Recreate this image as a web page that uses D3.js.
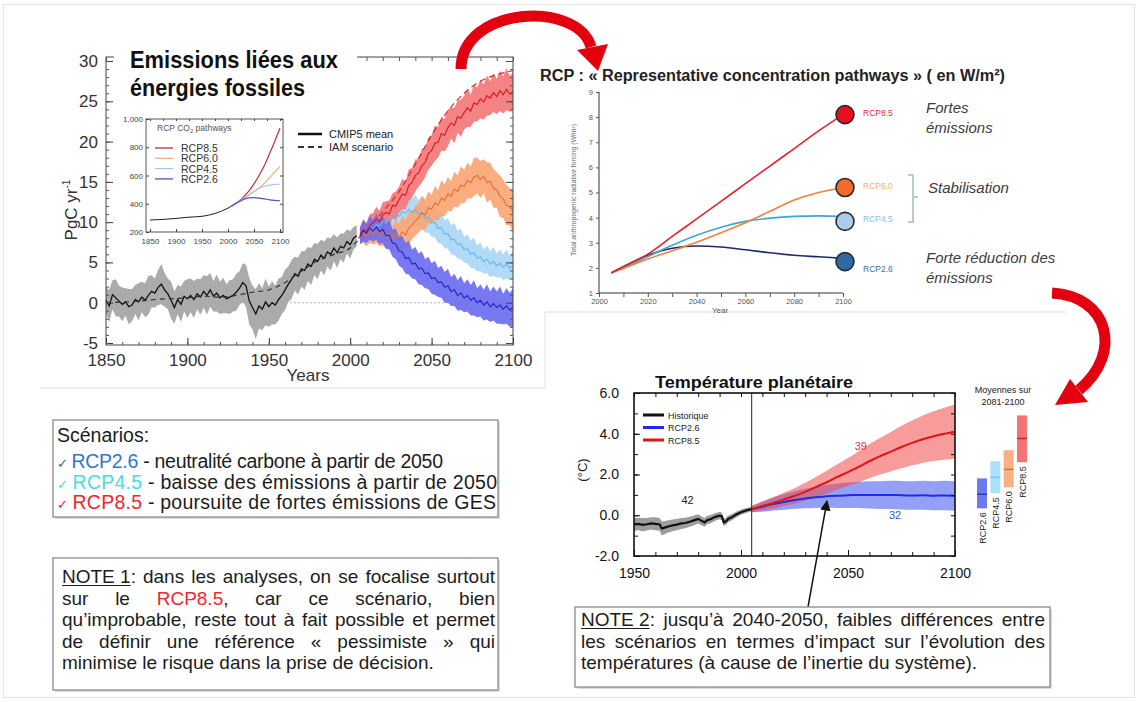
<!DOCTYPE html>
<html>
<head>
<meta charset="utf-8">
<script src="https://cdn.jsdelivr.net/npm/d3@7"></script>
<style>
  html, body { margin: 0; padding: 0; background: #fff; }
  svg { display: block; }
  text { font-family: "Liberation Sans", Arial, sans-serif; }
</style>
</head>
<body>
<svg id="slide" width="1138" height="702"></svg>
<script>
// ---------------- Fossil-fuel emissions (PgC / yr) ----------------
const histYears = d3.range(1850, 2005, 2);
const histEmis = [0.3,-0.4,1.0,0.6,0.2,-0.2,0.1,-0.5,-0.3,0.4,
  0.1,0.7,0.3,0.9,1.4,1.2,1.9,2.3,1.6,1.1,
  0.3,-0.6,0.4,-0.2,0.8,0.5,0.9,0.4,1.1,0.7,
  1.4,0.9,1.6,0.8,1.2,0.6,0.9,0.5,0.7,0.9,
  1.3,1.8,2.5,2.1,0.2,-0.6,-1.4,-0.4,-0.8,0.1,
  -0.5,0.0,-0.3,0.4,0.9,1.6,2.3,2.9,3.6,3.3,
  4.2,4.0,4.8,4.5,5.4,5.1,5.9,5.5,6.3,6.0,
  6.8,6.2,7.0,6.8,7.6,7.2,8.0,8.3];
const histSpread = [1.6,2.0,1.8,2.3,1.9,2.1,1.7,2.2,2.0,1.8,
  2.3,1.9,2.1,2.4,2.0,1.8,2.2,2.5,2.1,1.9,
  2.3,2.0,1.8,2.2,1.9,2.4,2.1,2.3,1.9,2.2,
  2.0,2.4,2.1,1.9,2.3,2.0,2.2,1.8,2.1,2.0,
  2.3,2.1,2.4,2.6,2.9,2.7,3.1,2.8,2.6,2.9,
  2.5,2.7,2.4,2.6,2.3,2.5,2.2,2.4,2.1,2.3,
  2.2,2.4,2.1,2.3,2.0,2.2,1.9,2.1,1.8,2.0,
  1.7,1.9,1.6,1.8,1.5,1.7,1.4,1.3];
const iamHistYears = [1850,1870,1880,1900,1910,1920,1930,1940,1950,1960,1970,1980,1990,2000,2005];
const iamHistVals  = [0.0,0.2,0.4,0.6,0.8,0.7,0.9,1.3,1.6,2.5,3.9,5.2,6.0,6.8,7.8];

const rcpYears = d3.range(2006, 2101, 2);
const rcp85Emis = [8.4,9.1,8.8,9.6,9.9,10.4,10.1,10.9,11.2,11.0,
  12.1,12.0,12.8,13.5,13.3,14.6,14.9,15.8,16.1,17.0,
  17.4,18.5,18.9,19.8,19.9,21.0,20.8,21.7,22.3,22.0,
  23.1,22.9,23.6,24.2,23.8,24.8,24.6,25.3,24.9,25.7,
  25.4,26.1,25.6,26.3,25.8,26.5,25.9,26.2];
const rcp60Emis = [8.3,8.7,8.2,8.9,8.5,9.0,8.4,8.8,8.2,8.7,
  7.9,8.5,8.1,8.8,8.4,9.3,9.6,10.2,10.5,11.2,
  10.9,11.8,11.6,12.4,12.1,13.0,12.7,13.5,13.2,14.1,
  13.8,14.6,14.4,15.2,14.9,15.6,15.8,15.3,15.7,14.9,
  15.1,14.2,14.0,13.2,12.9,12.1,11.9,11.4];
const rcp45Emis = [8.3,8.8,8.6,9.3,9.1,9.7,9.5,10.1,9.9,10.6,
  10.4,11.0,10.7,11.3,11.1,11.6,11.2,11.5,11.0,11.2,
  10.5,10.6,9.9,10.0,9.2,9.3,8.5,8.6,7.8,7.9,
  7.2,7.3,6.6,6.7,6.0,6.2,5.5,5.7,5.1,5.4,
  4.8,5.1,4.6,4.9,4.4,4.8,4.3,4.6];
const rcp26Emis = [8.3,8.9,8.6,9.3,8.9,9.4,8.8,9.1,8.3,8.4,
  7.4,7.3,6.4,6.3,5.5,5.6,4.8,4.9,4.2,4.3,
  3.6,3.7,3.0,3.1,2.5,2.6,1.9,2.1,1.4,1.6,
  0.9,1.2,0.6,0.9,0.3,0.6,0.0,0.3,-0.3,0.1,
  -0.5,-0.1,-0.6,-0.3,-0.8,-0.4,-0.9,-0.6];
const spread85 = [1.0,1.3,1.1,1.4,1.2,1.5,1.3,1.6,1.4,1.7,1.5,1.8,1.6,1.9,1.7,2.0,1.8,2.0,1.7,2.1,1.8,2.0,1.9,2.2,1.9,2.1,2.0,2.3,1.9,2.2,2.0,2.3,2.1,2.4,2.0,2.3,2.1,2.4,2.2,2.5,2.1,2.4,2.2,2.5,2.3,2.6,2.2,2.4];
const spread60 = [1.0,1.3,1.2,1.5,1.3,1.6,1.4,1.7,1.5,1.8,1.6,1.9,1.7,2.0,1.8,2.0,1.7,1.9,1.8,2.1,1.9,2.0,1.8,2.1,1.9,2.2,2.0,2.1,1.9,2.2,2.0,2.3,2.1,2.2,2.0,2.4,2.2,2.3,2.1,2.5,2.3,2.4,2.2,2.6,2.4,2.5,2.3,2.7];
const spread45 = [1.0,1.2,1.1,1.4,1.3,1.5,1.4,1.6,1.5,1.7,1.6,1.8,1.7,1.9,1.8,2.0,1.8,1.9,1.7,2.0,1.8,1.9,1.7,1.9,1.8,2.0,1.7,1.9,1.8,2.0,1.7,1.9,1.6,1.8,1.7,1.9,1.6,1.8,1.5,1.7,1.6,1.8,1.5,1.7,1.6,1.8,1.5,1.7];
const spread26 = [1.0,1.3,1.2,1.5,1.3,1.6,1.5,1.7,1.6,1.8,1.7,1.9,1.8,2.0,1.9,2.1,1.8,2.0,1.9,2.1,1.8,2.0,1.9,2.1,1.8,2.0,1.9,2.1,1.8,2.0,1.9,2.1,1.8,2.0,1.9,2.2,1.8,2.0,1.9,2.2,1.9,2.1,2.0,2.3,1.9,2.2,2.1,2.4];
const iam85Years = [2005,2010,2020,2030,2040,2050,2060,2070,2080,2090,2100];
const iam85Vals  = [8.0,9.0,11.3,13.8,17.2,20.8,23.8,26.0,27.5,28.3,28.8];
const emisYTicks = [-5,0,5,10,15,20,25,30];
const emisXTicks = [1850,1900,1950,2000,2050,2100];

// ---------------- CO2 concentration inset (ppm) ----------------
const co2HistYears = [1850,1875,1900,1925,1950,1975,2000,2005];
const co2HistVals  = [285,289,296,305,311,331,369,379];
const co2RcpYears  = [2005,2020,2030,2040,2050,2060,2070,2080,2090,2100];
const co2Rcp85 = [379,416,449,490,541,602,670,755,843,936];
const co2Rcp60 = [379,412,438,462,486,512,545,585,625,665];
const co2Rcp45 = [379,412,435,460,487,510,524,532,537,538];
const co2Rcp26 = [379,412,430,441,443,440,434,428,424,421];
const co2Names = ["RCP8.5","RCP6.0","RCP4.5","RCP2.6"];

// ---------------- Radiative forcing (W/m2) ----------------
const forcYears = [2005,2010,2020,2030,2040,2050,2060,2070,2080,2090,2100];
const forc85 = [1.8,2.05,2.55,3.25,3.95,4.65,5.35,6.05,6.75,7.45,8.1];
const forc60 = [1.8,1.98,2.35,2.68,3.02,3.4,3.8,4.25,4.7,5.0,5.2];
const forc45 = [1.8,2.0,2.45,2.9,3.3,3.62,3.85,3.98,4.05,4.07,4.05];
const forc26 = [1.8,2.05,2.5,2.78,2.87,2.83,2.72,2.6,2.5,2.44,2.38];
const forcNames = ["RCP8.5","RCP6.0","RCP4.5","RCP2.6"];
const forcMarkers = [8.1,5.2,3.85,2.25];
const forcYTicks = [1,2,3,4,5,6,7,8,9];
const forcXTicks = [2000,2020,2040,2060,2080,2100];

// ---------------- Global temperature (°C) ----------------
const tempHistYears = [1950,1952,1954,1956,1958,1960,1962,1963,1964,1966,1968,1970,1972,1974,1976,1978,1980,1982,1983,1984,1986,1988,1990,1991,1992,1993,1994,1996,1998,2000,2002,2004,2005];
const tempHistVals  = [-0.45,-0.42,-0.47,-0.44,-0.40,-0.42,-0.45,-0.65,-0.62,-0.55,-0.50,-0.46,-0.40,-0.38,-0.32,-0.25,-0.18,-0.30,-0.35,-0.25,-0.18,-0.08,-0.02,-0.05,-0.35,-0.30,-0.18,-0.08,0.05,0.15,0.22,0.28,0.30];
const tempHistSpread = [0.32,0.30,0.33,0.31,0.30,0.32,0.31,0.34,0.33,0.30,0.29,0.28,0.27,0.26,0.25,0.24,0.23,0.22,0.22,0.21,0.20,0.19,0.18,0.18,0.18,0.17,0.16,0.15,0.14,0.13,0.12,0.11,0.10];
const tempRcpYears = d3.range(2005, 2101, 5);
const temp26 = [0.30,0.42,0.55,0.65,0.75,0.82,0.88,0.93,0.96,0.98,1.0,1.0,0.99,1.0,0.98,0.97,0.98,0.96,0.97,0.95];
const temp26Spread = [0.15,0.25,0.32,0.38,0.43,0.48,0.52,0.56,0.60,0.63,0.65,0.67,0.68,0.69,0.70,0.70,0.71,0.71,0.72,0.72];
const temp85 = [0.30,0.45,0.60,0.78,0.95,1.15,1.38,1.62,1.88,2.12,2.38,2.65,2.90,3.12,3.35,3.55,3.73,3.88,4.00,4.10];
const temp85Spread = [0.15,0.22,0.28,0.33,0.38,0.44,0.50,0.56,0.62,0.69,0.76,0.83,0.90,0.97,1.04,1.10,1.16,1.22,1.28,1.33];
const tempModelCounts = ["42","39","32"];
const tempYTicks = [-2,0,2,4,6];
const tempXTicks = [1950,2000,2050,2100];
const meanNames = ["RCP2.6","RCP4.5","RCP6.0","RCP8.5"];
const meanLow  = [0.34,1.08,1.37,2.60];
const meanHigh = [1.81,2.65,3.19,4.90];
const meanMid  = [1.03,1.86,2.25,3.77];

// ---------------- Slide texts ----------------
const scenarioCodes = ["RCP2.6","RCP4.5","RCP8.5"];
const scenarioTexts = [" - neutralité carbone à partir de 2050", " - baisse des émissions à partir de 2050", " - poursuite de fortes émissions de GES"];
const note1Lines = [
  "NOTE\u00a01: dans les analyses, on se focalise surtout",
  "sur le RCP8.5, car ce scénario, bien",
  "qu’improbable, reste tout à fait possible et permet",
  "de définir une référence « pessimiste » qui",
  "minimise le risque dans la prise de décision."
];
const note2Lines = [
  "NOTE\u00a02: jusqu’à 2040-2050, faibles différences entre",
  "les scénarios en termes d’impact sur l’évolution des",
  "températures (à cause de l’inertie du système)."
];

// =================================================================
const SANS = '"Liberation Sans", Arial, sans-serif';
const svg = d3.select("#slide");
svg.append("rect").attr("width", 1138).attr("height", 702).attr("fill", "#fff");
svg.append("rect").attr("x", 3.5).attr("y", 4.5).attr("width", 1131).attr("height", 693)
  .attr("fill", "none").attr("stroke", "#e4e4e4");

// soft edges of the pasted figures
const edges = svg.append("g").attr("stroke", "#e8e8e8").attr("stroke-width", 1.3);
edges.append("line").attr("x1", 40).attr("x2", 545).attr("y1", 388).attr("y2", 388);
edges.append("line").attr("x1", 545).attr("x2", 545).attr("y1", 312).attr("y2", 388);
edges.append("line").attr("x1", 545).attr("x2", 1066).attr("y1", 312).attr("y2", 312);

function styleAxis(g, size, color) {
  g.select(".domain").remove();
  g.selectAll("line").attr("stroke", color || "#333");
  g.selectAll("text").attr("font-size", size).attr("fill", color || "#333").attr("font-family", SANS);
  return g;
}

// ---------------- Emissions panel ----------------
const xE = d3.scaleLinear().domain([1850, 2100]).range([106, 513]);
const yE = d3.scaleLinear().domain([-5.25, 30.5]).range([345, 57]);
const gE = svg.append("g");

gE.append("line").attr("x1", xE(1850)).attr("x2", xE(2100)).attr("y1", yE(0)).attr("y2", yE(0))
  .attr("stroke", "#b4b4b4").attr("stroke-dasharray", "2,2");

const mk = (years, vals, spr) => years.map((x, i) => ({ x, v: vals[i], lo: vals[i] - spr[i], hi: vals[i] + spr[i] }));
const areaE = d3.area().x(d => xE(d.x)).y0(d => yE(d.lo)).y1(d => yE(d.hi));
const lineE = d3.line().x(d => xE(d.x)).y(d => yE(d.v));

const histData = mk(histYears, histEmis, histSpread);
gE.append("path").datum(histData).attr("d", areaE).attr("fill", "#ababab");
gE.append("path").datum(histData).attr("d", lineE).attr("fill", "none").attr("stroke", "#111").attr("stroke-width", 1.3);
gE.append("path").datum(iamHistYears.map((x, i) => ({ x, v: iamHistVals[i] })))
  .attr("d", d3.line().x(d => xE(d.x)).y(d => yE(d.v)).curve(d3.curveMonotoneX)).attr("fill", "none").attr("stroke", "#333")
  .attr("stroke-width", 1.2).attr("stroke-dasharray", "5,4");

const emisSeries = [
  { vals: rcp45Emis, spr: spread45, band: "#aad7f6", line: "#6ab4ee" },
  { vals: rcp60Emis, spr: spread60, band: "#f8a676", line: "#e86f30" },
  { vals: rcp85Emis, spr: spread85, band: "#f47878", line: "#d81818" },
  { vals: rcp26Emis, spr: spread26, band: "#6c6cf0", line: "#2020cc" }
];
emisSeries.forEach(s => {
  const data = mk(rcpYears, s.vals, s.spr);
  gE.append("path").datum(data).attr("d", areaE).attr("fill", s.band).attr("fill-opacity", 0.92);
});
emisSeries.forEach(s => {
  const data = mk(rcpYears, s.vals, s.spr);
  gE.append("path").datum(data).attr("d", lineE).attr("fill", "none").attr("stroke", s.line).attr("stroke-width", 1.1);
});
gE.append("path").datum(iam85Years.map((x, i) => ({ x, v: iam85Vals[i] })))
  .attr("d", d3.line().x(d => xE(d.x)).y(d => yE(d.v)).curve(d3.curveMonotoneX))
  .attr("fill", "none").attr("stroke", "#d42a2a").attr("stroke-width", 1.2).attr("stroke-dasharray", "6,4");

// frame + ticks
gE.append("rect").attr("x", 106).attr("y", 57).attr("width", 407).attr("height", 288)
  .attr("fill", "none").attr("stroke", "#444").attr("stroke-width", 1);
styleAxis(gE.append("g").attr("transform", "translate(106,0)")
  .call(d3.axisLeft(yE).tickValues(emisYTicks).tickSizeInner(-7).tickSizeOuter(0).tickPadding(8).tickFormat(d => String(d))), 17, "#333");
styleAxis(gE.append("g").attr("transform", "translate(106,0)")
  .call(d3.axisLeft(yE).tickValues(d3.range(-5, 31, 1)).tickSize(-3).tickFormat("")), 1, "#555");
styleAxis(gE.append("g").attr("transform", "translate(513,0)")
  .call(d3.axisRight(yE).tickValues(emisYTicks).tickSize(-7).tickFormat("")), 1, "#444");
styleAxis(gE.append("g").attr("transform", "translate(513,0)")
  .call(d3.axisRight(yE).tickValues(d3.range(-5, 31, 1)).tickSize(-3).tickFormat("")), 1, "#555");
styleAxis(gE.append("g").attr("transform", "translate(0,345)")
  .call(d3.axisBottom(xE).tickValues(emisXTicks).tickSizeInner(-7).tickSizeOuter(0).tickPadding(9).tickFormat(d => String(d))), 17, "#333");
styleAxis(gE.append("g").attr("transform", "translate(0,345)")
  .call(d3.axisBottom(xE).tickValues(d3.range(1850, 2101, 10)).tickSize(-3).tickFormat("")), 1, "#555");
styleAxis(gE.append("g").attr("transform", "translate(0,57)")
  .call(d3.axisTop(xE).tickValues(d3.range(1850, 2101, 10)).tickSize(-4).tickFormat("")), 1, "#555");

gE.append("text").attr("x", 308).attr("y", 381).attr("text-anchor", "middle")
  .attr("font-size", 17).attr("fill", "#333").text("Years");
const yl = gE.append("text").attr("transform", "translate(77,210) rotate(-90)").attr("text-anchor", "middle")
  .attr("font-size", 17).attr("fill", "#333");
yl.append("tspan").text("PgC yr");
yl.append("tspan").attr("font-size", 10).attr("dy", -7).text("-1");

// title block over the upper frame
gE.append("rect").attr("x", 114).attr("y", 36).attr("width", 243).attr("height", 70).attr("fill", "#fff");
gE.append("text").attr("x", 130).attr("y", 68).attr("font-family", "Lato, sans-serif").attr("font-weight", 700)
  .attr("font-size", 23).attr("fill", "#111").attr("textLength", 208).attr("lengthAdjust", "spacingAndGlyphs")
  .text("Emissions liées aux");
gE.append("text").attr("x", 130).attr("y", 96).attr("font-family", "Lato, sans-serif").attr("font-weight", 700)
  .attr("font-size", 23).attr("fill", "#111").attr("textLength", 175).attr("lengthAdjust", "spacingAndGlyphs")
  .text("énergies fossiles");

// CMIP5 / IAM legend
gE.append("line").attr("x1", 298).attr("x2", 322).attr("y1", 134).attr("y2", 134).attr("stroke", "#111").attr("stroke-width", 2.5);
gE.append("line").attr("x1", 298).attr("x2", 322).attr("y1", 147).attr("y2", 147).attr("stroke", "#333").attr("stroke-width", 2).attr("stroke-dasharray", "6,4");
gE.append("text").attr("x", 329).attr("y", 138).attr("font-size", 11).attr("fill", "#222").text("CMIP5 mean");
gE.append("text").attr("x", 329).attr("y", 151).attr("font-size", 11).attr("fill", "#222").text("IAM scenario");

// ---------------- CO2 inset ----------------
const xI = d3.scaleLinear().domain([1850, 2100]).range([150, 280]);
const yI = d3.scaleLinear().domain([200, 1000]).range([232, 119]);
const gI = svg.append("g");
gI.append("rect").attr("x", 116).attr("y", 112).attr("width", 172).attr("height", 140).attr("fill", "#fff");
const lineI = d3.line().x(d => xI(d.x)).y(d => yI(d.v)).curve(d3.curveMonotoneX);
const co2Colors = ["#b8323e", "#f3b083", "#a7c6f2", "#4f4fc8"];
[co2Rcp85, co2Rcp60, co2Rcp45, co2Rcp26].forEach((vals, k) => {
  gI.append("path").datum(co2RcpYears.map((x, i) => ({ x, v: vals[i] }))).attr("d", lineI)
    .attr("fill", "none").attr("stroke", co2Colors[k]).attr("stroke-width", 1.2);
});
gI.append("path").datum(co2HistYears.map((x, i) => ({ x, v: co2HistVals[i] }))).attr("d", lineI)
  .attr("fill", "none").attr("stroke", "#222").attr("stroke-width", 1);
gI.append("rect").attr("x", 146).attr("y", 119).attr("width", 137).attr("height", 113)
  .attr("fill", "none").attr("stroke", "#444").attr("stroke-width", 0.9);
styleAxis(gI.append("g").attr("transform", "translate(146,0)")
  .call(d3.axisLeft(yI).tickValues([200, 400, 600, 800, 1000]).tickSizeInner(-3).tickSizeOuter(0).tickPadding(3)), 8, "#444");
styleAxis(gI.append("g").attr("transform", "translate(283,0)")
  .call(d3.axisRight(yI).tickValues([200, 400, 600, 800, 1000]).tickSize(-3).tickFormat("")), 1, "#444");
styleAxis(gI.append("g").attr("transform", "translate(0,232)")
  .call(d3.axisBottom(xI).tickValues(d3.range(1850, 2101, 50)).tickSizeInner(-3).tickSizeOuter(0).tickPadding(6).tickFormat(d => String(d))), 8, "#444");
styleAxis(gI.append("g").attr("transform", "translate(0,119)")
  .call(d3.axisTop(xI).tickValues(d3.range(1850, 2101, 25)).tickSize(-2).tickFormat("")), 1, "#444");
const it = gI.append("text").attr("x", 157).attr("y", 131).attr("font-size", 8.5).attr("fill", "#555");
it.append("tspan").text("RCP CO");
it.append("tspan").attr("font-size", 6).attr("dy", 2).text("2");
it.append("tspan").attr("dy", -2).text(" pathways");
co2Names.forEach((n, k) => {
  gI.append("line").attr("x1", 155).attr("x2", 173).attr("y1", 148 + k * 10.3).attr("y2", 148 + k * 10.3)
    .attr("stroke", co2Colors[k]).attr("stroke-width", 1.3);
  gI.append("text").attr("x", 181).attr("y", 152 + k * 10.3).attr("font-size", 10.5).attr("fill", "#333").text(n);
});

// ---------------- Forcing panel ----------------
const xF = d3.scaleLinear().domain([2000, 2100]).range([599, 843]);
const yF = d3.scaleLinear().domain([1, 9]).range([293, 92]);
const gF = svg.append("g");
gF.append("text").attr("x", 540).attr("y", 81).attr("font-family", "Lato, sans-serif").attr("font-weight", 700)
  .attr("font-size", 16).attr("fill", "#222").attr("textLength", 465).attr("lengthAdjust", "spacingAndGlyphs")
  .text("RCP : « Representative concentration pathways » ( en W/m²)");
gF.append("line").attr("x1", 599).attr("x2", 599).attr("y1", yF(9)).attr("y2", yF(1)).attr("stroke", "#333");
gF.append("line").attr("x1", 599).attr("x2", 843).attr("y1", yF(1)).attr("y2", yF(1)).attr("stroke", "#333");
styleAxis(gF.append("g").attr("transform", "translate(599,0)")
  .call(d3.axisLeft(yF).tickValues(forcYTicks).tickSize(3).tickPadding(3)), 7.5, "#555");
styleAxis(gF.append("g").attr("transform", `translate(0,${yF(1)})`)
  .call(d3.axisBottom(xF).tickValues(d3.range(2000, 2101, 10)).tickSize(4).tickPadding(2)
    .tickFormat(d => forcXTicks.includes(d) ? String(d) : "")), 7.5, "#555");
gF.append("text").attr("transform", "translate(576,190) rotate(-90)").attr("text-anchor", "middle")
  .attr("font-size", 6.8).attr("fill", "#666").text("Total anthropogenic radiative forcing (W/m²)");
gF.append("text").attr("x", 720).attr("y", 313).attr("text-anchor", "middle").attr("font-size", 8).attr("fill", "#555").text("Year");

const forcLines = [forc85, forc60, forc45, forc26];
const forcLineColors = ["#e8222c", "#f08040", "#3ea6d6", "#1c2a6c"];
const forcDotColors = ["#e8101e", "#f26a2c", "#a9cdea", "#2d6aa6"];
const forcLabelColors = ["#e2303a", "#f5b35c", "#8fbfe2", "#3f6e9e"];
const forcLabelDy = [-2, -1, -2, 7];
const lineF = d3.line().x(d => xF(d.x)).y(d => yF(d.v)).curve(d3.curveMonotoneX);
[3, 2, 1, 0].forEach(k => {
  gF.append("path").datum(forcYears.map((x, i) => ({ x, v: forcLines[k][i] }))).attr("d", lineF)
    .attr("fill", "none").attr("stroke", forcLineColors[k]).attr("stroke-width", 1.6);
});
forcNames.forEach((n, k) => {
  gF.append("circle").attr("cx", xF(2100) + 2).attr("cy", yF(forcMarkers[k])).attr("r", 9)
    .attr("fill", forcDotColors[k]).attr("stroke", "#2a2a2a").attr("stroke-width", 1.6);
  gF.append("text").attr("x", 863).attr("y", yF(forcMarkers[k]) + forcLabelDy[k] + 3)
    .attr("font-size", 8.5).attr("fill", forcLabelColors[k]).text(n);
});
gF.append("path").attr("d", "M908,175H913V222H908M913,197H918").attr("fill", "none")
  .attr("stroke", "#b9cdc5").attr("stroke-width", 2);
const ital = (x, y, s) => gF.append("text").attr("x", x).attr("y", y).attr("font-family", "Lato, sans-serif")
  .attr("font-style", "italic").attr("font-size", 15).attr("fill", "#3c3c3c").text(s);
ital(926, 113, "Fortes");
ital(926, 133, "émissions");
ital(928, 193, "Stabilisation");
ital(926, 263, "Forte réduction des");
ital(926, 283, "émissions");

// ---------------- Temperature panel ----------------
const xT = d3.scaleLinear().domain([1950, 2100]).range([634, 955]);
const yT = d3.scaleLinear().domain([-2, 6]).range([556, 393]);
const gT = svg.append("g");
gT.append("text").attr("x", 655).attr("y", 388).attr("font-weight", 700).attr("font-size", 17)
  .attr("fill", "#111").attr("textLength", 198).attr("lengthAdjust", "spacingAndGlyphs").text("Température planétaire");
const areaT = d3.area().x(d => xT(d.x)).y0(d => yT(d.lo)).y1(d => yT(d.hi)).curve(d3.curveMonotoneX);
const lineT = d3.line().x(d => xT(d.x)).y(d => yT(d.v)).curve(d3.curveMonotoneX);
const tHist = mk(tempHistYears, tempHistVals, tempHistSpread);
const t26 = mk(tempRcpYears, temp26, temp26Spread);
const t85 = mk(tempRcpYears, temp85, temp85Spread);
gT.append("path").datum(tHist).attr("d", d3.area().x(d => xT(d.x)).y0(d => yT(d.lo)).y1(d => yT(d.hi)))
  .attr("fill", "#8c8c8c").attr("fill-opacity", 0.85);
gT.append("path").datum(t26).attr("d", areaT).attr("fill", "#3c50ee").attr("fill-opacity", 0.55);
gT.append("path").datum(t85).attr("d", areaT).attr("fill", "#f04848").attr("fill-opacity", 0.55);
gT.append("path").datum(tHist).attr("d", d3.line().x(d => xT(d.x)).y(d => yT(d.v))).attr("fill", "none").attr("stroke", "#111").attr("stroke-width", 2.2);
gT.append("path").datum(t26).attr("d", lineT).attr("fill", "none").attr("stroke", "#1c2ee8").attr("stroke-width", 2);
gT.append("path").datum(t85).attr("d", lineT).attr("fill", "none").attr("stroke", "#e01414").attr("stroke-width", 2);
gT.append("line").attr("x1", xT(2005)).attr("x2", xT(2005)).attr("y1", yT(6)).attr("y2", yT(-2)).attr("stroke", "#222").attr("stroke-width", 1);
gT.append("rect").attr("x", 634).attr("y", 393).attr("width", 321).attr("height", 163)
  .attr("fill", "none").attr("stroke", "#111").attr("stroke-width", 1.6);
styleAxis(gT.append("g").attr("transform", "translate(634,0)")
  .call(d3.axisLeft(yT).tickValues(tempYTicks).tickSizeInner(-6).tickSizeOuter(0).tickPadding(15).tickFormat(d => d.toFixed(1))), 14, "#111");
styleAxis(gT.append("g").attr("transform", "translate(634,0)")
  .call(d3.axisLeft(yT).tickValues(d3.range(-2, 7, 1)).tickSize(-4).tickFormat("")), 1, "#111");
styleAxis(gT.append("g").attr("transform", "translate(955,0)")
  .call(d3.axisRight(yT).tickValues(d3.range(-2, 7, 1)).tickSize(-4).tickFormat("")), 1, "#111");
styleAxis(gT.append("g").attr("transform", "translate(0,556)")
  .call(d3.axisBottom(xT).tickValues(tempXTicks).tickSizeInner(-6).tickSizeOuter(0).tickPadding(12).tickFormat(d => String(d))), 14, "#111");
styleAxis(gT.append("g").attr("transform", "translate(0,556)")
  .call(d3.axisBottom(xT).tickValues(d3.range(1950, 2101, 10)).tickSize(-4).tickFormat("")), 1, "#111");
styleAxis(gT.append("g").attr("transform", "translate(0,393)")
  .call(d3.axisTop(xT).tickValues(d3.range(1950, 2101, 10)).tickSize(-4).tickFormat("")), 1, "#111");
gT.append("text").attr("transform", "translate(587,470) rotate(-90)").attr("text-anchor", "middle")
  .attr("font-size", 13).attr("fill", "#222").text("(°C)");
const tLegend = [["Historique", "#111"], ["RCP2.6", "#1c2ee8"], ["RCP8.5", "#e01414"]];
tLegend.forEach(([n, c], k) => {
  gT.append("line").attr("x1", 643).attr("x2", 664).attr("y1", 415 + k * 12.5).attr("y2", 415 + k * 12.5)
    .attr("stroke", c).attr("stroke-width", 3);
  gT.append("text").attr("x", 668).attr("y", 418.5 + k * 12.5).attr("font-size", 9).attr("fill", "#222").text(n);
});
gT.append("text").attr("x", xT(1975)).attr("y", yT(0.55)).attr("text-anchor", "middle").attr("font-size", 11).attr("fill", "#222").text(tempModelCounts[0]);
gT.append("text").attr("x", xT(2056)).attr("y", yT(3.2)).attr("text-anchor", "middle").attr("font-size", 11).attr("fill", "#e03a3a").text(tempModelCounts[1]);
gT.append("text").attr("x", xT(2072)).attr("y", yT(-0.2)).attr("text-anchor", "middle").attr("font-size", 11).attr("fill", "#3450e0").text(tempModelCounts[2]);

// 2081-2100 means
const xM = d3.scalePoint().domain(meanNames).range([982, 1022]);
const meanFill = ["#6c78ee", "#ace0fb", "#f9b183", "#f27474"];
const meanLine = ["#2c36c8", "#7cc4f0", "#e2703a", "#cc2424"];
gT.append("text").attr("x", 1003).attr("y", 393).attr("text-anchor", "middle").attr("font-size", 9).attr("fill", "#222").text("Moyennes sur");
gT.append("text").attr("x", 1003).attr("y", 405).attr("text-anchor", "middle").attr("font-size", 9).attr("fill", "#222").text("2081-2100");
meanNames.forEach((n, k) => {
  const cx = xM(n);
  gT.append("rect").attr("x", cx - 5).attr("width", 10).attr("y", yT(meanHigh[k])).attr("height", yT(meanLow[k]) - yT(meanHigh[k]))
    .attr("fill", meanFill[k]);
  gT.append("line").attr("x1", cx - 5).attr("x2", cx + 5).attr("y1", yT(meanMid[k])).attr("y2", yT(meanMid[k]))
    .attr("stroke", meanLine[k]).attr("stroke-width", 1.5);
  gT.append("text").attr("transform", `translate(${cx + 3.5},${yT(meanLow[k]) + 4}) rotate(-90)`)
    .attr("text-anchor", "end").attr("font-size", 9).attr("fill", "#222").text(n);
});

// pointer from NOTE 2 to the curves
svg.append("defs").append("marker").attr("id", "tip").attr("viewBox", "0 0 10 10").attr("refX", 9).attr("refY", 5)
  .attr("markerWidth", 7).attr("markerHeight", 7).attr("orient", "auto")
  .append("path").attr("d", "M0,0L10,5L0,10Z").attr("fill", "#111");
svg.append("line").attr("x1", 808).attr("y1", 607).attr("x2", 827).attr("y2", 501)
  .attr("stroke", "#111").attr("stroke-width", 1.5).attr("marker-end", "url(#tip)");

// ---------------- Text boxes ----------------
function box(x, y, w, h) {
  svg.append("rect").attr("x", x + 2).attr("y", y + 2).attr("width", w).attr("height", h).attr("fill", "#dcdcdc");
  svg.append("rect").attr("x", x).attr("y", y).attr("width", w).attr("height", h)
    .attr("fill", "#fff").attr("stroke", "#8a8a8a").attr("stroke-width", 1.3);
}
const TXT = "#1c1c1c";
const RED_TXT = "#f0262e";

box(53, 420, 445, 97);
svg.append("text").attr("x", 57).attr("y", 442).attr("font-size", 19.5).attr("fill", TXT).text("Scénarios:");
const checkColors = ["#2a64aa", "#47d6dc", "#e0202a"];
const codeColors = ["#2f78c8", "#47dce2", "#f0262e"];
const scenarioRight = [443, 497, 496];
scenarioCodes.forEach((c, i) => {
  const t = svg.append("text").attr("x", 57).attr("y", 468 + i * 20.5).attr("font-size", 19.5).attr("fill", TXT)
    .attr("textLength", scenarioRight[i] - 57).attr("lengthAdjust", "spacing");
  t.append("tspan").attr("font-size", 13).attr("font-family", "DejaVu Sans").attr("fill", checkColors[i]).text("✓ ");
  t.append("tspan").attr("fill", codeColors[i]).text(c);
  t.append("tspan").text(scenarioTexts[i]);
});

function wordSegments(tok) {
  if (tok.startsWith("NOTE\u00a0")) return [{ t: tok.slice(0, 6), u: true }, { t: tok.slice(6) }];
  if (tok.startsWith("RCP8.5")) return [{ t: "RCP8.5", c: RED_TXT }, { t: tok.slice(6) }];
  return [{ t: tok }];
}
function paragraph(lines, x0, x1, y0, lh, size) {
  const g = svg.append("g");
  lines.forEach((line, li) => {
    const toks = line.split(" ");
    const y = y0 + li * lh;
    const nodes = toks.map(tok => {
      const t = g.append("text").attr("y", y).attr("font-size", size).attr("fill", TXT);
      wordSegments(tok).forEach(s => {
        if (s.t) t.append("tspan").text(s.t).attr("fill", s.c || null).classed("ul", !!s.u);
      });
      return t;
    });
    const widths = nodes.map(n => n.node().getComputedTextLength());
    const justify = li < lines.length - 1 && toks.length > 1;
    const gap = justify ? (x1 - x0 - d3.sum(widths)) / (toks.length - 1) : size * 0.278;
    let x = x0;
    nodes.forEach((n, i) => {
      n.attr("x", x);
      let off = 0;
      n.selectAll("tspan").each(function () {
        const w = this.getComputedTextLength();
        if (d3.select(this).classed("ul")) {
          g.append("line").attr("x1", x + off).attr("x2", x + off + w).attr("y1", y + 2.5).attr("y2", y + 2.5)
            .attr("stroke", TXT).attr("stroke-width", 1.2);
        }
        off += w;
      });
      x += widths[i] + gap;
    });
  });
}

box(53, 558, 445, 132);
paragraph(note1Lines, 62, 495, 583, 21.5, 19);
box(575, 607, 475, 80);
paragraph(note2Lines, 581, 1045, 626, 21.5, 19);

// ---------------- Red connector arrows ----------------
const ARROW = "#e3000f";
function curvedArrow(d, head) {
  svg.append("path").attr("d", d).attr("fill", "none").attr("stroke", ARROW).attr("stroke-width", 11);
  svg.append("path").attr("d", "M" + head.map(p => p.join(",")).join("L") + "Z").attr("fill", ARROW);
}
curvedArrow("M461,69C461,6 578,0 591,47", [[577, 50], [608, 44], [598, 71]]);
curvedArrow("M1052,293C1108,296 1124,352 1079,390", [[1070, 379], [1088, 402], [1055, 405]]);
</script>
</body>
</html>
